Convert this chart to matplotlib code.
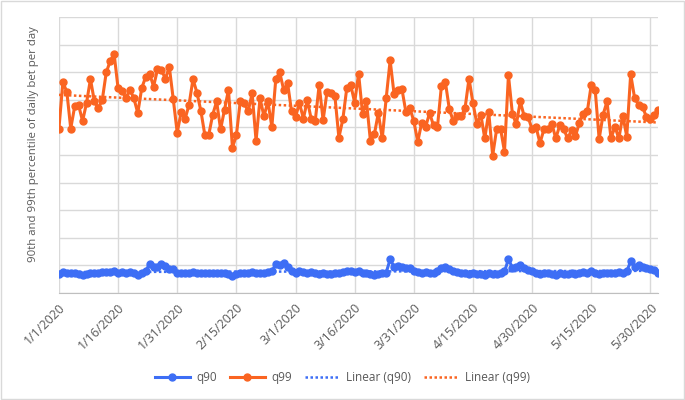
import matplotlib
matplotlib.use("Agg")
import matplotlib.pyplot as plt
import numpy as np
import datetime as dt

plt.rcParams['font.family'] = ['Open Sans', 'DejaVu Sans']

# one value per day, 1/1/2020 .. 6/1/2020
start = dt.date(2020, 1, 1)

q99 = [5.95, 7.63, 7.3, 5.96, 6.76, 6.8, 6.23, 6.88, 7.75, 6.94,
       6.7, 7.0, 7.99, 8.4, 8.67, 7.42, 7.33, 7.06, 7.36, 7.06,
       6.52, 7.42, 7.83, 7.95, 7.48, 8.1, 8.07, 7.77, 8.19, 7.02,
       5.81, 6.55, 6.31, 6.82, 7.75, 7.26, 6.6, 5.73, 5.73, 6.46,
       6.94, 5.93, 6.64, 7.36, 5.27, 5.71, 6.96, 6.88, 6.58, 7.24,
       5.51, 7.06, 6.4, 6.94, 6.02, 7.75, 7.99, 7.36, 7.6, 6.58,
       6.38, 6.88, 6.32, 6.98, 6.29, 6.23, 7.54, 6.26, 7.3, 7.24,
       7.12, 5.63, 6.29, 7.42, 7.54, 6.9, 7.95, 6.5, 6.94, 5.51,
       5.75, 6.52, 5.6, 7.06, 8.43, 7.2, 7.36, 7.38, 6.55, 6.7,
       6.23, 5.48, 6.17, 6.02, 6.52, 6.07, 6.02, 7.5, 7.65, 6.67,
       6.23, 6.4, 6.4, 6.7, 7.77, 6.88, 6.13, 6.46, 5.6, 6.55,
       4.98, 5.93, 5.95, 5.12, 7.89, 6.5, 6.11, 6.94, 6.4, 6.37,
       5.93, 6.02, 5.43, 5.93, 5.93, 6.14, 5.6, 6.07, 5.95, 5.6,
       5.9, 5.69, 6.17, 6.5, 6.58, 7.54, 7.36, 5.58, 6.46, 6.94,
       5.6, 6.02, 5.6, 6.43, 5.67, 7.93, 7.06, 6.82, 6.74, 6.38,
       6.29, 6.46, 6.64]

q90 = [0.68, 0.75, 0.74, 0.72, 0.72, 0.7, 0.66, 0.7, 0.74, 0.73,
       0.72, 0.75, 0.76, 0.76, 0.78, 0.74, 0.75, 0.74, 0.76, 0.74,
       0.64, 0.72, 0.8,
       1.05, 0.95, 0.93, 1.05, 0.98, 0.88, 0.86, 0.74,
       0.72, 0.72, 0.74, 0.76, 0.72, 0.74, 0.72, 0.73, 0.74, 0.72,
       0.74, 0.72, 0.7, 0.62, 0.7, 0.72, 0.73, 0.74, 0.76, 0.73,
       0.74, 0.72, 0.75, 0.78,
       1.05, 1.0, 1.08, 0.95,
       0.8, 0.72, 0.78, 0.76, 0.74, 0.75, 0.72, 0.7, 0.72, 0.7,
       0.7, 0.72, 0.74, 0.76, 0.78, 0.78, 0.76, 0.78, 0.74, 0.74,
       0.68, 0.66, 0.7, 0.72, 0.74,
       1.22, 0.95, 0.98, 0.96, 0.9, 0.92,
       0.8, 0.75, 0.74, 0.76, 0.74, 0.72, 0.78, 0.9, 0.95, 0.86,
       0.8, 0.75, 0.74, 0.72, 0.7, 0.72, 0.68, 0.7, 0.66, 0.72,
       0.7, 0.68, 0.72, 0.78,
       1.22, 0.92, 0.95, 1.02, 0.9, 0.85,
       0.78, 0.74, 0.7, 0.72, 0.74, 0.68, 0.66, 0.72, 0.7, 0.68,
       0.74, 0.7, 0.72, 0.75, 0.74, 0.78, 0.72, 0.7, 0.74, 0.72,
       0.74, 0.72, 0.76, 0.72, 0.78,
       1.15, 0.95, 1.02, 0.95, 0.9, 0.86, 0.82, 0.72]

days = np.arange(len(q99))
tick_days = np.arange(0, 151, 15)
tick_labels = []
for d in tick_days:
    t = start + dt.timedelta(days=int(d))
    tick_labels.append(f"{t.month}/{t.day}/{t.year}")

blue = '#3d6ef5'
orange = '#fa6421'

fig = plt.figure(figsize=(6.85, 4.0), dpi=100)
ax = fig.add_axes([0.086, 0.2675, 0.875, 0.69])

ax.plot(days, q90, color=blue, lw=2.2, marker='o', ms=5, label='q90', zorder=3)
ax.plot(days, q99, color=orange, lw=2.2, marker='o', ms=5, label='q99', zorder=3)

# linear trendlines
c90 = np.polyfit(days, q90, 1)
c99 = np.polyfit(days, q99, 1)
ax.plot(days, np.polyval(c90, days), color=blue, ls=(0, (1, 1)), lw=1.8,
        label='Linear (q90)', zorder=4)
ax.plot(days, np.polyval(c99, days), color=orange, ls=(0, (1, 1)), lw=1.8,
        label='Linear (q99)', zorder=4)

ax.set_xlim(0, len(q99) - 1)
ax.set_ylim(0, 10)
ax.set_yticks(np.arange(0, 11, 1))
ax.set_yticklabels([])
ax.tick_params(axis='y', length=0)
ax.set_xticks(tick_days)
ax.set_xticklabels(tick_labels, rotation=45, ha='right', rotation_mode='anchor',
                   fontsize=9, color='#595959')
ax.tick_params(axis='x', length=0, pad=6)
ax.grid(True, color='#d9d9d9', lw=1)
ax.set_axisbelow(True)
for s in ['top', 'right', 'left']:
    ax.spines[s].set_visible(False)
ax.spines['bottom'].set_color('#bfbfbf')

ax.set_ylabel('90th and 99th percentile of daily bet per day', fontsize=8.2,
              color='#595959')
ax.yaxis.set_label_coords(-0.034, 0.54)

fig.legend(loc='center', bbox_to_anchor=(0.5, 0.055), ncol=4, frameon=False,
           fontsize=8.5, handlelength=3.0, columnspacing=1.1, handletextpad=0.5,
           labelcolor='#595959')

fig.patches.append(plt.Rectangle((0.002, 0.003), 0.996, 0.994, transform=fig.transFigure,
                                 fill=False, edgecolor='#d9d9d9', lw=1))

fig.savefig('out.png', dpi=100)
